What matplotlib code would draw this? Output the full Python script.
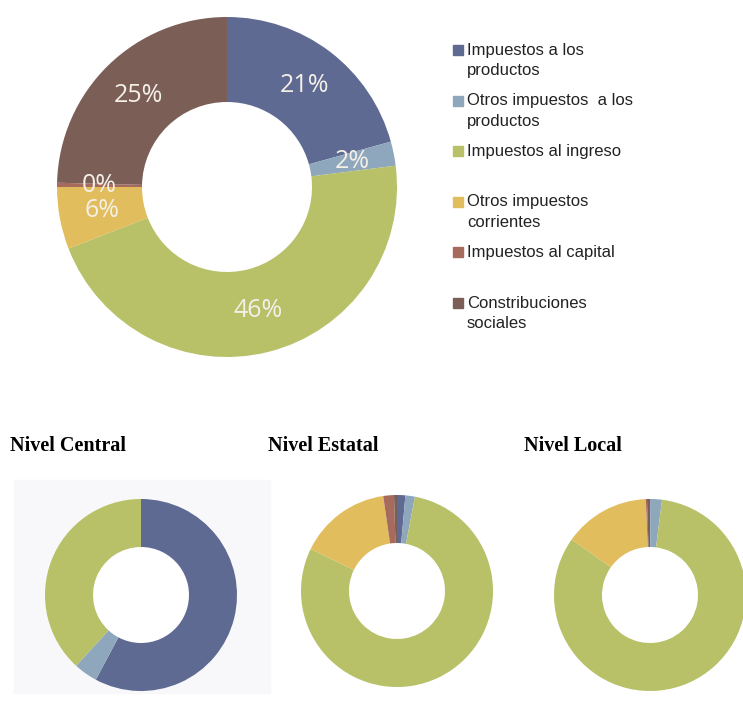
import matplotlib.pyplot as plt
from matplotlib.patches import Rectangle, Circle

W, H = 743, 702

categorias = ['Impuestos a los\nproductos',
              'Otros impuestos  a los\nproductos',
              'Impuestos al ingreso',
              'Otros impuestos\ncorrientes',
              'Impuestos al capital',
              'Constribuciones\nsociales']
colores = ['#5F6A93', '#8EA7BC', '#B8C068', '#E2BD5D', '#A76B5E', '#7B5F57']

total = [20.7, 2.3, 46.1, 5.9, 0.4, 24.6]
niveles = ['Nivel Central', 'Nivel Estatal', 'Nivel Local']
central = [57.8, 4.0, 38.2, 0, 0, 0]
estatal = [1.4, 1.6, 79.2, 15.5, 1.8, 0.5]
local = [0.1, 1.9, 82.8, 14.5, 0.2, 0.5]


def px_axes(fig, cx, cy, r):
    # square axes around a centre given in pixels (y from top)
    return fig.add_axes([(cx - r) / W, 1 - (cy + r) / H, 2 * r / W, 2 * r / H])


def dona(ax, valores, etiquetas=False):
    kw = dict(startangle=90, counterclock=False, colors=colores,
              wedgeprops=dict(width=0.5, linewidth=0))
    if etiquetas:
        kw.update(autopct=lambda p: f'{p:.0f}%', pctdistance=0.75,
                  textprops=dict(color='#F4F0E8', fontsize=18,
                                 family='Open Sans'))
    ax.pie(valores, radius=1, **kw)
    ax.add_patch(Circle((0, 0), 0.5, color='white', zorder=0))
    ax.set_xlim(-1, 1)
    ax.set_ylim(-1, 1)
    ax.set_aspect('equal')
    ax.axis('off')


fig = plt.figure(figsize=(W / 100, H / 100), dpi=100)

# fondo gris del nivel central
fig.patches.append(Rectangle((14 / W, 1 - 693 / H), 256 / W, 213 / H,
                             transform=fig.transFigure, color='#F8F8FA',
                             zorder=-1))

ax = px_axes(fig, 227, 187, 170)
dona(ax, total, etiquetas=True)

# leyenda
for i, (lab, col) in enumerate(zip(categorias, colores)):
    y = 50 + i * 50.6
    fig.patches.append(Rectangle((453 / W, 1 - (y + 5) / H), 10 / W, 10 / H,
                                 transform=fig.transFigure, color=col))
    for j, linea in enumerate(lab.split('\n')):
        fig.text(467 / W, 1 - (y + j * 20.5) / H, linea, fontsize=12,
                 family='Liberation Sans', color='#222222', va='center')

titulos_x = [10, 268, 524]
centros = [(141, 595), (397, 591), (650, 595)]
for nombre, tx, (cx, cy), vals in zip(niveles, titulos_x, centros,
                                      [central, estatal, local]):
    fig.text(tx / W, 1 - 446 / H, nombre, fontsize=14.5, fontweight='bold',
             family='Liberation Serif', va='center')
    ax = px_axes(fig, cx, cy, 96)
    dona(ax, vals)

fig.savefig('out.png', dpi=100)
